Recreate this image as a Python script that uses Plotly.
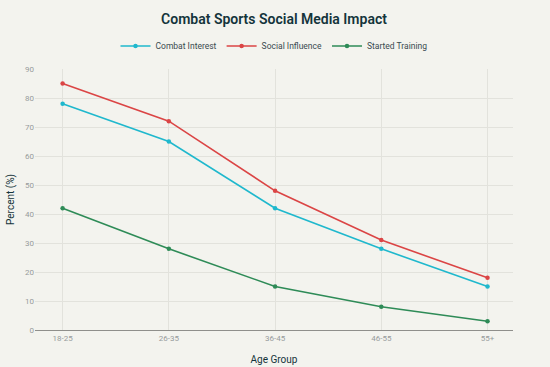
import plotly.graph_objects as go

age_groups = ["18-25", "26-35", "36-45", "46-55", "55+"]
combat_interest = [78, 65, 42, 28, 15]
social_influence = [85, 72, 48, 31, 18]
started_training = [42, 28, 15, 8, 3]

series = [
    ("Combat Interest", combat_interest, "#1FB8CD"),
    ("Social Influence", social_influence, "#DB4545"),
    ("Started Training", started_training, "#2E8B57"),
]

fig = go.Figure()
for name, vals, color in series:
    fig.add_trace(go.Scatter(
        x=age_groups, y=vals, name=name, mode="lines+markers",
        line=dict(color=color, width=1.6), marker=dict(color=color, size=4.5),
        cliponaxis=False,
    ))

fig.update_layout(
    width=550, height=367,
    paper_bgcolor="#F3F3EE", plot_bgcolor="#F3F3EE",
    font=dict(family="Roboto, sans-serif", color="#13343B", size=10),
    title=dict(text="Combat Sports Social Media Impact", x=0.5, xanchor="center",
               xref="paper", yref="container", y=1 - 19 / 367, yanchor="middle",
               font=dict(size=14, color="#13343B", family="Roboto, sans-serif",
                         weight=600)),
    legend=dict(orientation="h", x=0.5, xanchor="center", yref="container",
                y=1 - 46 / 367, yanchor="middle",
                font=dict(size=8.5, color="#3A4A50"), bgcolor="rgba(0,0,0,0)",
                itemwidth=30, tracegroupgap=0),
    margin=dict(l=35, r=37, t=69, b=37, autoexpand=False),
    showlegend=True,
)
fig.update_xaxes(
    title=dict(text="Age Group", font=dict(size=10, color="#13343B"), standoff=14),
    type="category", range=[-0.26, 4.24], automargin=False,
    showgrid=True, gridcolor="#E2E2DC", gridwidth=1,
    showline=True, linecolor="#8F8F8B", linewidth=1,
    tickfont=dict(size=8, color="#979B9C"), ticks="",
)
fig.update_yaxes(
    title=dict(text="Percent (%)", font=dict(size=10, color="#13343B"), standoff=8),
    range=[0, 90], dtick=10, automargin=False,
    showgrid=True, gridcolor="#E2E2DC", gridwidth=1,
    zeroline=False, showline=False,
    tickfont=dict(size=8, color="#979B9C"), ticks="",
)

fig.write_html("out.html", config={"displayModeBar": False},
               post_script="document.body.style.margin='0';")
